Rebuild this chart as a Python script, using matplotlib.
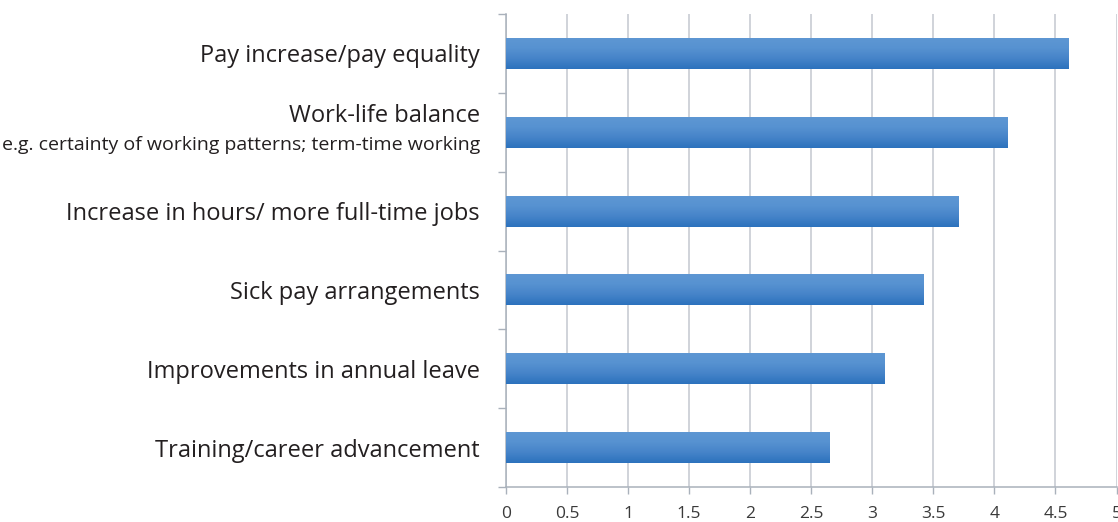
import numpy as np
import matplotlib.pyplot as plt
import matplotlib.transforms as mtransforms

plt.rcParams['font.family'] = ['Open Sans', 'DejaVu Sans']

# survey priorities, top to bottom
categories = [
    "Pay increase/pay equality",
    "Work-life balance",
    "Increase in hours/ more full-time jobs",
    "Sick pay arrangements",
    "Improvements in annual leave",
    "Training/career advancement",
]
subtitles = {"Work-life balance": "e.g. certainty of working patterns; term-time working"}
scores = [4.61, 4.11, 3.71, 3.42, 3.10, 2.65]
xticks = [0, 0.5, 1, 1.5, 2, 2.5, 3, 3.5, 4, 4.5, 5]
xtick_labels = ["0", "0.5", "1", "1.5", "2", "2.5", "3", "3.5", "4", "4.5", "5"]

W, H = 1118, 522
fig = plt.figure(figsize=(W / 100, H / 100), dpi=100)
ax = fig.add_axes([506 / W, 35 / H, (1116.5 - 506) / W, (487 - 14) / H])

ypos = np.arange(len(categories))[::-1]
bars = ax.barh(ypos, scores, height=0.395, color='#4582c8', edgecolor='none', zorder=3)

# vertical gradient on each bar: darker at the bottom, lighter on top
grad = np.linspace(0, 1, 64).reshape(-1, 1)
cmap = plt.matplotlib.colors.LinearSegmentedColormap.from_list(
    "barfill", ["#2c72bd", "#4684c9", "#5792d1", "#5e97d3"])
for b in bars:
    x0, y0 = b.get_x(), b.get_y()
    w, h = b.get_width(), b.get_height()
    im = ax.imshow(grad, cmap=cmap, aspect='auto', origin='lower',
                   extent=[x0, x0 + w, y0, y0 + h], zorder=4)
    im.set_clip_path(b)

ax.set_xlim(0, 5)
ax.set_ylim(-0.5, len(categories) - 0.5)

ax.set_xticks(xticks)
ax.set_xticklabels(xtick_labels, fontsize=12.5, color='#3a3a3a')
ax.tick_params(axis='x', length=5, width=1, color='#a9b1bb', pad=9)
ax.grid(axis='x', color='#c3c8cf', linewidth=1.1, zorder=0)

# category labels sit at bar centres, small ticks mark the boundaries
label_pad = 26  # pixels between labels and the axis
ax.set_yticks(ypos)
ax.set_yticklabels([c if c not in subtitles else "" for c in categories],
                   fontsize=17, color='#231f20')
ax.tick_params(axis='y', which='major', length=0, pad=label_pad * 0.72)
ax.set_yticks(np.arange(-0.5, len(categories), 1), minor=True)
ax.tick_params(axis='y', which='minor', length=6, width=1, color='#a9b1bb',
               direction='out')

trans = mtransforms.blended_transform_factory(ax.transAxes, ax.transData)
for name, sub in subtitles.items():
    y = ypos[categories.index(name)]
    ax.text(-label_pad / ax.bbox.width, y + 0.21, name, transform=trans, ha='right',
            va='center', fontsize=17, color='#231f20')
    ax.text(-label_pad / ax.bbox.width, y - 0.16, sub, transform=trans, ha='right',
            va='center', fontsize=14, color='#231f20')

for side in ['top', 'right']:
    ax.spines[side].set_visible(False)
for side in ['left', 'bottom']:
    ax.spines[side].set_color('#a9b1bb')
    ax.spines[side].set_linewidth(1.1)

fig.savefig('out.png', dpi=100)
